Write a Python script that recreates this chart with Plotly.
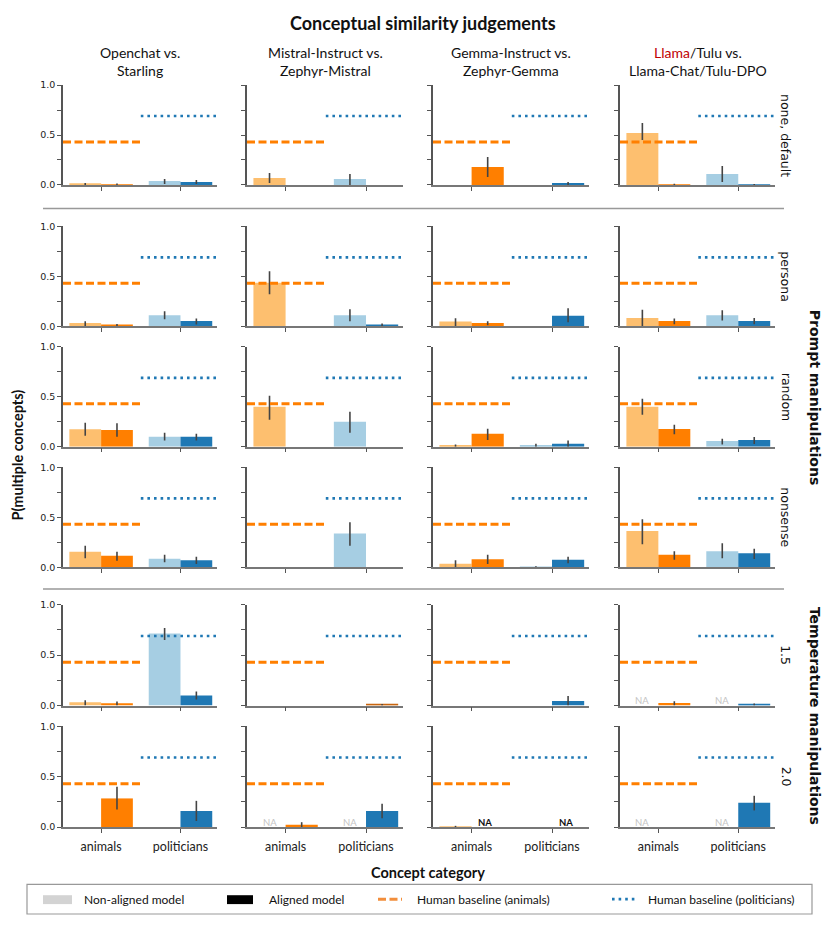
import plotly.graph_objects as go

# ---------------- data ----------------
models = [
    "Openchat vs.<br>Starling",
    "Mistral-Instruct vs.<br>Zephyr-Mistral",
    "Gemma-Instruct vs.<br>Zephyr-Gemma",
    "<span style='color:#c00000'>Llama</span>/Tulu vs.<br>Llama-Chat/Tulu-DPO",
]
conditions = ["none, default", "persona", "random", "nonsense", "1.5", "2.0"]
groups = [("Prompt manipulations", 1, 3), ("Temperature manipulations", 4, 5)]
categories = ["animals", "politicians"]
human_baseline = [0.43, 0.69]  # animals, politicians

# [row][col] -> [animals, politicians]
nonaligned = [
    [[0.010, 0.040], [0.070, 0.060], [None, None], [0.520, 0.110]],
    [[0.033, 0.110], [0.435, 0.110], [0.046, None], [0.083, 0.110]],
    [[0.175, 0.100], [0.400, 0.250], [0.013, 0.010], [0.400, 0.056]],
    [[0.155, 0.086], [None, 0.337], [0.036, 0.005], [0.363, 0.160]],
    [[0.033, 0.715], [None, None], [None, None], [None, None]],
    [[None, None], [None, None], [0.004, None], [None, None]],
]
nonaligned_lo = [
    [[0.0, 0.01], [0.02, 0.0], [None, None], [0.45, 0.03]],
    [[0.0, 0.07], [0.32, 0.05], [0.0, None], [0.0, 0.057]],
    [[0.11, 0.063], [0.27, 0.14], [0.0, 0.0], [0.32, 0.023]],
    [[0.09, 0.05], [None, 0.215], [0.0, 0.0], [0.23, 0.09]],
    [[0.0, 0.65], [None, None], [None, None], [None, None]],
    [[None, None], [None, None], [0.0, None], [None, None]],
]
nonaligned_hi = [
    [[0.02, 0.06], [0.12, 0.11], [None, None], [0.62, 0.19]],
    [[0.05, 0.15], [0.55, 0.17], [0.08, None], [0.165, 0.16]],
    [[0.24, 0.14], [0.51, 0.35], [0.023, 0.03], [0.48, 0.08]],
    [[0.215, 0.125], [None, 0.45], [0.07, 0.01], [0.48, 0.24]],
    [[0.052, 0.77], [None, None], [None, None], [None, None]],
    [[None, None], [None, None], [0.012, None], [None, None]],
]
aligned = [
    [[0.007, 0.030], [None, None], [0.180, 0.020], [0.006, 0.004]],
    [[0.013, 0.053], [None, 0.013], [0.033, 0.105], [0.053, 0.053]],
    [[0.168, 0.100], [None, None], [0.130, 0.030], [0.178, 0.066]],
    [[0.115, 0.070], [None, None], [0.080, 0.076], [0.125, 0.140]],
    [[0.023, 0.100], [None, 0.008], [None, 0.045], [0.026, 0.013]],
    [[0.284, 0.160], [0.023, 0.160], [None, None], [None, 0.242]],
]
aligned_lo = [
    [[0.0, 0.01], [None, None], [0.08, 0.0], [0.0, 0.0]],
    [[0.0, 0.017], [None, 0.0], [0.01, 0.04], [0.02, 0.02]],
    [[0.10, 0.063], [None, None], [0.066, 0.0], [0.125, 0.026]],
    [[0.066, 0.033], [None, None], [0.033, 0.04], [0.076, 0.083]],
    [[0.0, 0.06], [None, 0.0], [None, 0.0], [0.0, 0.0]],
    [[0.175, 0.06], [0.0, 0.087], [None, None], [None, 0.165]],
]
aligned_hi = [
    [[0.015, 0.05], [None, None], [0.28, 0.03], [0.012, 0.008]],
    [[0.023, 0.076], [None, 0.026], [0.05, 0.18], [0.076, 0.083]],
    [[0.234, 0.13], [None, None], [0.18, 0.063], [0.22, 0.096]],
    [[0.155, 0.105], [None, None], [0.125, 0.105], [0.16, 0.185]],
    [[0.04, 0.14], [None, 0.016], [None, 0.094], [0.042, 0.02]],
    [[0.40, 0.26], [0.048, 0.23], [None, None], [None, 0.31]],
]
# NA markers: (row, col, category index, series)
na_labels = [
    (4, 3, 0, "nonaligned"), (4, 3, 1, "nonaligned"),
    (5, 1, 0, "nonaligned"), (5, 1, 1, "nonaligned"),
    (5, 3, 0, "nonaligned"), (5, 3, 1, "nonaligned"),
    (5, 2, 0, "aligned"), (5, 2, 1, "aligned"),
]

# ---------------- style ----------------
W, H = 830, 925          # browser window
M = 8                    # default page body margin
FW, FH = W - 2 * M, H - 2 * M
light_colors = ["#fdbf6f", "#a6cee3"]
dark_colors = ["#ff7f00", "#1f78b4"]
special_dark = {(4, 1): ["#ff7f00", "#c8650f"]}
col_px = [(63, 217), (247, 403), (433, 589), (620, 775)]
row_px = [(80, 181), (223, 324), (345, 446), (467, 568), (606, 708), (729, 831)]
XR = [-0.48, 1.46]
LATO = "Lato"
DJ = "DejaVu Sans"


def px(x):
    return (x - M) / FW


def py(y):
    return 1 - (y - M) / FH


fig = go.Figure()
layout = {}
annotations = []
shapes = []


def errs(vals, lo, hi):
    up, dn = [], []
    for v, l, h in zip(vals, lo, hi):
        if v is None or l is None:
            up.append(None)
            dn.append(None)
        else:
            up.append(h - v)
            dn.append(v - l)
    return up, dn


for r in range(6):
    for c in range(4):
        k = r * 4 + c + 1
        xa = "x" if k == 1 else f"x{k}"
        ya = "y" if k == 1 else f"y{k}"
        xkey = "xaxis" if k == 1 else f"xaxis{k}"
        ykey = "yaxis" if k == 1 else f"yaxis{k}"
        v = nonaligned[r][c]
        up, dn = errs(v, nonaligned_lo[r][c], nonaligned_hi[r][c])
        fig.add_trace(go.Bar(
            x=[0, 1], y=v, xaxis=xa, yaxis=ya, showlegend=False,
            marker=dict(color=light_colors, line=dict(width=0)),
            error_y=dict(type="data", symmetric=False, array=up, arrayminus=dn,
                         color="#444", thickness=1.6, width=0),
        ))
        v = aligned[r][c]
        up, dn = errs(v, aligned_lo[r][c], aligned_hi[r][c])
        fig.add_trace(go.Bar(
            x=[0, 1], y=v, xaxis=xa, yaxis=ya, showlegend=False,
            marker=dict(color=special_dark.get((r, c), dark_colors), line=dict(width=0)),
            error_y=dict(type="data", symmetric=False, array=up, arrayminus=dn,
                         color="#444", thickness=1.6, width=0),
        ))
        fig.add_trace(go.Scatter(
            x=[XR[0], 0.5], y=[human_baseline[0]] * 2, xaxis=xa, yaxis=ya,
            mode="lines", showlegend=False, hoverinfo="skip",
            line=dict(color="#ff7f00", width=3, dash="8px,3.5px"),
        ))
        fig.add_trace(go.Scatter(
            x=[0.5, XR[1]], y=[human_baseline[1]] * 2, xaxis=xa, yaxis=ya,
            mode="lines", showlegend=False, hoverinfo="skip",
            line=dict(color="#1f78b4", width=2.6, dash="2.6px,4px"),
        ))
        x0, x1 = col_px[c]
        y0, y1 = row_px[r]
        layout[xkey] = dict(
            domain=[px(x0), px(x1)], range=XR, anchor=ya,
            showline=True, linecolor="#777", linewidth=1.5,
            ticks="outside", ticklen=4, tickwidth=1.2, tickcolor="#555",
            tickvals=[0, 1], ticktext=categories,
            showticklabels=(r == 5), showgrid=False, zeroline=False,
            tickfont=dict(family=LATO, size=12.5, color="#222"),
            ticklabelstandoff=3, fixedrange=True,
        )
        layout[ykey] = dict(
            domain=[py(y1), py(y0)], range=[0, 1], anchor=xa,
            showline=True, linecolor="#555", linewidth=1.5,
            ticks="outside", ticklen=4, tickwidth=1.2, tickcolor="#555",
            tickvals=[0, 0.25, 0.5, 0.75, 1.0],
            ticktext=["0.0", "", "0.5", "", "1.0"],
            showticklabels=(c == 0), showgrid=False, zeroline=False,
            tickfont=dict(family=DJ, size=9.5, color="#222"),
            fixedrange=True,
        )

for (r, c, ci, series) in na_labels:
    k = r * 4 + c + 1
    xa = "x" if k == 1 else f"x{k}"
    ya = "y" if k == 1 else f"y{k}"
    off = -0.2 if series == "nonaligned" else 0.17
    annotations.append(dict(
        x=ci + off, y=0.05, xref=xa, yref=ya, text="NA", showarrow=False,
        font=dict(family=LATO, size=9.5,
                  color="#c4c4c4" if series == "nonaligned" else "#111",
                  weight="normal" if series == "nonaligned" else "bold"),
        xanchor="center", yanchor="middle",
    ))

for c, name in enumerate(models):
    x0, x1 = col_px[c]
    annotations.append(dict(
        x=px((x0 + x1) / 2), y=py(56), xref="paper", yref="paper", text=name,
        showarrow=False, font=dict(family=LATO, size=14, color="#111"),
        xanchor="center", yanchor="middle",
    ))

for r, name in enumerate(conditions):
    y0, y1 = row_px[r]
    annotations.append(dict(
        x=px(786), y=py((y0 + y1) / 2), xref="paper", yref="paper", text=name,
        showarrow=False, textangle=90, font=dict(family=DJ, size=12.5, color="#111"),
        xanchor="center", yanchor="middle",
    ))

for name, ra, rb in groups:
    yc = (row_px[ra][0] + row_px[rb][1]) / 2
    annotations.append(dict(
        x=px(815), y=py(yc), xref="paper", yref="paper", text=name,
        showarrow=False, textangle=90,
        font=dict(family=DJ, size=14, color="#111", weight="bold"),
        xanchor="center", yanchor="middle",
    ))

annotations.append(dict(
    x=px(423), y=py(17), xref="paper", yref="paper",
    text="Conceptual similarity judgements", showarrow=False,
    font=dict(family=LATO, size=18, color="#111", weight="bold"),
    xanchor="center", yanchor="middle",
))
annotations.append(dict(
    x=px(18), y=py(455), xref="paper", yref="paper",
    text="P(multiple concepts)", showarrow=False, textangle=-90,
    font=dict(family=LATO, size=14.5, color="#111", weight="bold"),
    xanchor="center", yanchor="middle",
))
annotations.append(dict(
    x=px(428), y=py(877), xref="paper", yref="paper",
    text="Concept category", showarrow=False,
    font=dict(family=LATO, size=14.5, color="#111", weight="bold"),
    xanchor="center", yanchor="middle",
))

for ysep in [205, 590]:
    shapes.append(dict(type="line", xref="paper", yref="paper",
                       x0=px(43), x1=px(784), y0=py(ysep), y1=py(ysep),
                       line=dict(color="#999", width=1.5)))

ly = 904
shapes.append(dict(type="rect", xref="paper", yref="paper",
                   x0=px(27), x1=px(812), y0=py(919), y1=py(889),
                   line=dict(color="#999", width=1.2), fillcolor="white"))
shapes.append(dict(type="rect", xref="paper", yref="paper",
                   x0=px(43), x1=px(72), y0=py(909), y1=py(900),
                   line=dict(width=0), fillcolor="#d3d3d3"))
shapes.append(dict(type="rect", xref="paper", yref="paper",
                   x0=px(227), x1=px(253), y0=py(909), y1=py(900),
                   line=dict(width=0), fillcolor="#000000"))
shapes.append(dict(type="line", xref="paper", yref="paper",
                   x0=px(378), x1=px(402), y0=py(ly), y1=py(ly),
                   line=dict(color="#f28e3c", width=3, dash="8px,3.5px")))
shapes.append(dict(type="line", xref="paper", yref="paper",
                   x0=px(612), x1=px(637), y0=py(ly), y1=py(ly),
                   line=dict(color="#1f78b4", width=2.6, dash="2.6px,4px")))
legend_items = [("Non-aligned model", 82), ("Aligned model", 267),
                ("Human baseline (animals)", 415), ("Human baseline (politicians)", 646)]
for txt, lx in legend_items:
    annotations.append(dict(
        x=px(lx), y=py(ly), xref="paper", yref="paper", text=txt, showarrow=False,
        font=dict(family=LATO, size=12, color="#111"), xanchor="left", yanchor="middle",
    ))

fig.update_layout(
    width=FW, height=FH, margin=dict(l=0, r=0, t=0, b=0),
    paper_bgcolor="white", plot_bgcolor="white",
    barmode="group", bargap=0.2, bargroupgap=0,
    showlegend=False, annotations=annotations, shapes=shapes,
    **layout,
)
fig.write_html("out.html")
